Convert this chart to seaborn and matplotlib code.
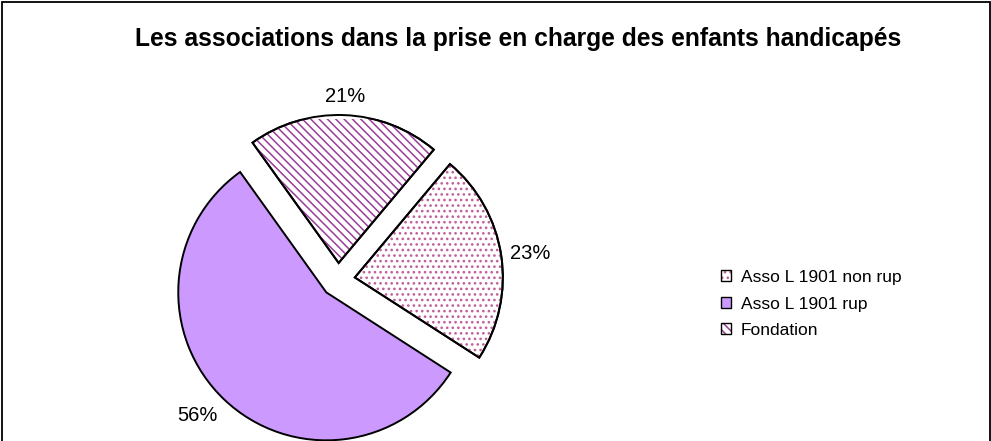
import matplotlib
matplotlib.use('Agg')

import numpy as np
import seaborn as sns
from matplotlib import pyplot as plt
from matplotlib.patches import Patch, Wedge, Rectangle
from matplotlib.legend_handler import HandlerTuple

# data
categories = ['Asso L 1901 non rup', 'Asso L 1901 rup', 'Fondation']
shares = [23, 56, 21]
title = 'Les associations dans la prise en charge des enfants handicapés'

# styles (Excel-like fills)
faces = ['white', '#CC99FF', 'white']
hatches = ['...', None, '\\\\\\\\']
hatch_colors = ['#c0609a', None, '#9a3d9a']

sns.set_theme(style='white')
plt.rcParams['font.family'] = ['Liberation Sans', 'DejaVu Sans']
plt.rcParams['text.color'] = 'black'
plt.rcParams['hatch.linewidth'] = 1.1

fig = plt.figure(figsize=(9.91, 4.41), dpi=100)
fig.patch.set_facecolor('white')

# pie axes, 1 data unit = 148 px
R = 148.0
ax = fig.add_axes([38 / 991, 0, 600 / 991, 322 / 441])

wedges, texts, autotexts = ax.pie(
    shares, explode=[0.115] * 3, startangle=50, counterclock=False,
    colors=faces, autopct='%1.0f%%', pctdistance=1.06,
    wedgeprops=dict(edgecolor='black', linewidth=1.4),
    textprops=dict(fontsize=14.5, color='black'))
ax.set_xlim(-300 / R, 300 / R)
ax.set_ylim(-161 / R, 161 / R)
ax.axis('off')

# hatch overlays + outline on top
for w, h, hc in zip(wedges, hatches, hatch_colors):
    if h is None:
        continue
    hw = Wedge(w.center, w.r, w.theta1, w.theta2, facecolor='none',
               edgecolor=hc, hatch=h, linewidth=0, zorder=w.get_zorder() + 0.1)
    ax.add_patch(hw)
    ow = Wedge(w.center, w.r, w.theta1, w.theta2, fill=False,
               edgecolor='black', linewidth=1.4, zorder=w.get_zorder() + 0.2)
    ax.add_patch(ow)

# Excel style label placement: anchor the text box just outside the rim
for w, t in zip(wedges, autotexts):
    ang = np.deg2rad((w.theta1 + w.theta2) / 2)
    c, s = np.cos(ang), np.sin(ang)
    t.set_ha('left' if c > 0.25 else ('right' if c < -0.25 else 'center'))
    t.set_va('bottom' if s > 0.25 else ('top' if s < -0.25 else 'center'))

# legend
handles = []
for f, h, hc in zip(faces, hatches, hatch_colors):
    if h is None:
        handles.append(Patch(facecolor=f, edgecolor='black', linewidth=1.0))
    else:
        handles.append((Patch(facecolor='white', edgecolor=hc, hatch=h, linewidth=0),
                        Patch(fill=False, edgecolor='black', linewidth=1.0)))
fig.legend(handles, categories, loc='center left',
           bbox_to_anchor=(712 / 991, 1 - 304 / 441), frameon=False,
           fontsize=12.5, handlelength=0.6, handleheight=0.6,
           handletextpad=0.57, labelspacing=0.66, borderpad=0,
           handler_map={tuple: HandlerTuple(ndivide=1, pad=0)})

fig.text(518 / 991, 1 - 39 / 441, title, ha='center', va='center',
         fontsize=17.7, fontweight='bold')

# chart area border
fig.patches.append(Rectangle((1.5 / 991, -0.05), 988 / 991, 1.05 - 2 / 441,
                             transform=fig.transFigure, fill=False,
                             edgecolor='black', linewidth=1.3))

fig.savefig('out.png', dpi=100)
